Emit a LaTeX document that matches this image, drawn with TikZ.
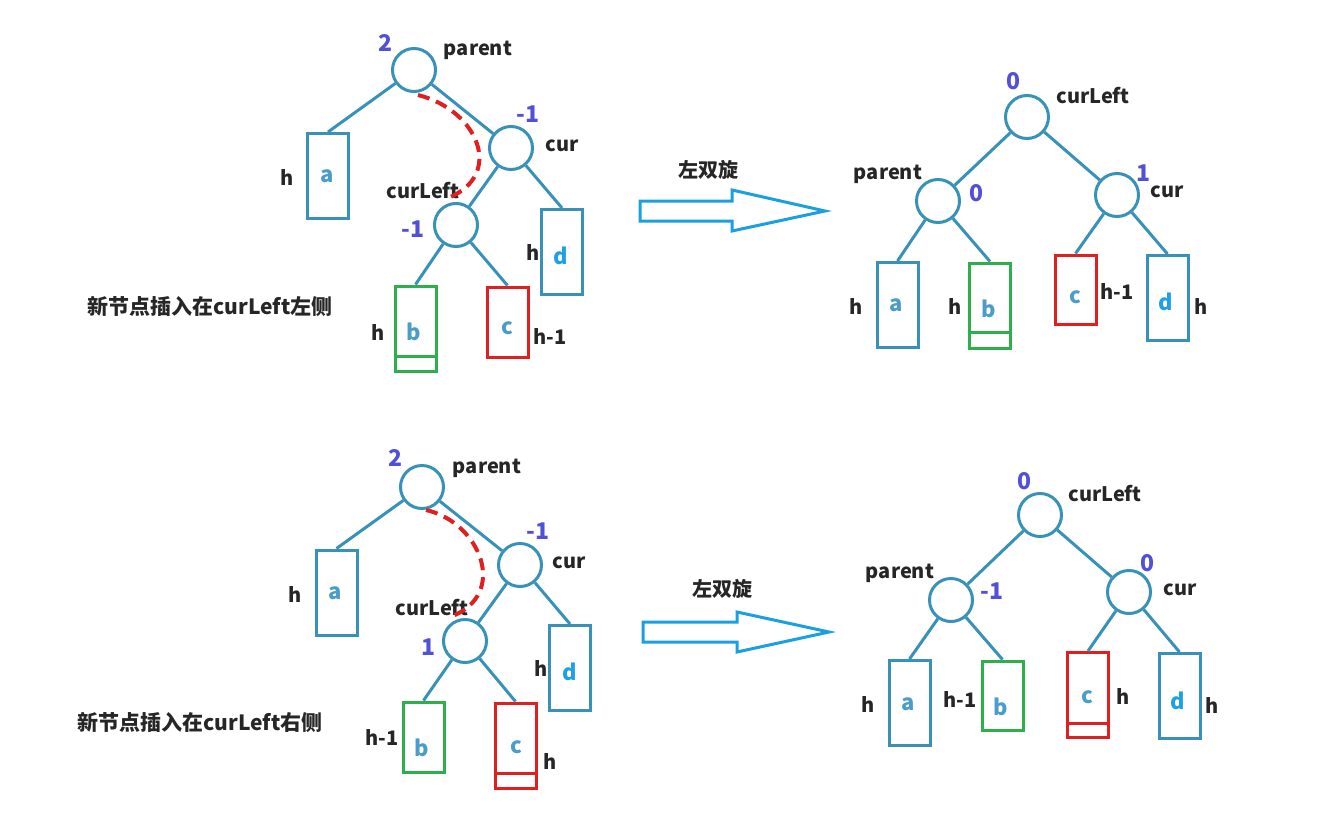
\documentclass[tikz,border=0pt]{standalone}
\usepackage{fontspec}
\setmainfont{Noto Sans CJK SC}
\definecolor{treeblue}{RGB}{56,145,185}
\definecolor{lettblue}{RGB}{74,157,200}
\definecolor{dblue}{RGB}{30,160,230}
\definecolor{balblue}{RGB}{80,80,216}
\definecolor{arrblue}{RGB}{26,160,224}
\definecolor{bgreen}{RGB}{45,176,75}
\definecolor{bred}{RGB}{224,32,32}
\tikzset{
  tn/.style={circle, draw=treeblue, line width=3pt, minimum size=43pt, inner sep=0pt},
  bx/.style={draw=treeblue, line width=3pt, minimum width=41pt, minimum height=85pt, inner sep=0pt},
  gbx/.style={bx, draw=bgreen},
  rbx/.style={bx, draw=bred},
  conn/.style={draw=treeblue, line width=3pt},
  lbl/.style={font=\fontsize{20}{22}\selectfont\bfseries, text=black!85, inner sep=0pt},
  bal/.style={font=\fontsize{23}{25}\selectfont\bfseries, text=balblue, inner sep=0pt},
  lett/.style={font=\fontsize{22}{24}\selectfont\bfseries, text=lettblue, inner sep=0pt},
  dlett/.style={lett, text=dblue},
  bigarrow/.style={draw=arrblue, line width=3pt, line join=miter},
  rot/.style={draw=bred, line width=4pt, dash pattern=on 12pt off 7pt},
  captxt/.style={font=\fontsize{21}{23}\selectfont\bfseries, text=black!85, inner sep=0pt}
}
\begin{document}
\begin{tikzpicture}[x=1pt,y=-1pt]
\useasboundingbox (0,0) rectangle (1326,833);
% ================= top left =================
\node[tn] (p1) at (414,70) {};
\node[tn] (c1) at (511,148) {};
\node[tn] (l1) at (456,225) {};
\node[bx] (a1) at (328,176) {};
\node[lett] (a1t) at (327,176) {a};
\node[bx] (d1) at (562,252) {};
\node[dlett] (d1t) at (561,256) {d};
\node[gbx] (b1) at (415.5,328.5) {};
\node[lett] (b1t) at (414,332) {b};
\node[rbx, minimum height=70pt] (cc1) at (507.5,322) {};
\node[lett] (cc1t) at (507,328) {c};
\draw[draw=bgreen, line width=3pt] ([yshift=16pt]b1.south west) -- ([yshift=16pt]b1.south east);
\draw[conn] (p1) -- (a1.north);
\draw[conn] (p1) -- (c1);
\draw[conn] (c1) -- (l1);
\draw[conn] (c1) -- (d1.north);
\draw[conn] (l1) -- (b1.north);
\draw[conn] (l1) -- (cc1.north);
\node[bal] (p1b) at (385,43) {2};
\node[lbl] (p1n) at (478,50) {parent};
\node[bal] (c1b) at (528,114) {-1};
\node[lbl] (c1n) at (562,146) {cur};
\node[lbl] (l1n) at (423,191) {curLeft};
\node[bal] (l1b) at (413,229) {-1};
\node[lbl] (h1a) at (287,178) {h};
\node[lbl] (h1d) at (533,253) {h};
\node[lbl] (h1b) at (378,333) {h};
\node[lbl] (h1c) at (550,337) {h-1};
\coordinate (r1s) at (418,95);
\coordinate (r1e) at (448,198);
\draw[rot] (r1s) .. controls (478,110) and (505,175) .. (r1e);
\node[captxt] (t1) at (210,306) {新节点插入在curLeft左侧};
% arrow top
\draw[bigarrow] (640,201) -- (732,201) -- (732,190) -- (825,211) -- (732,231) -- (732,221) -- (640,221) -- cycle;
\node[lbl] (ar1t) at (708,170) {左双旋};
% ================= top right =================
\node[tn] (L2) at (1027,117) {};
\node[tn] (P2) at (938,201) {};
\node[tn] (C2) at (1117,195) {};
\node[bx] (a2) at (897.5,305) {};
\node[lett] (a2t) at (896,305) {a};
\node[gbx] (b2) at (990,305.5) {};
\node[lett] (b2t) at (989,309) {b};
\draw[draw=bgreen, line width=3pt] ([yshift=17pt]b2.south west) -- ([yshift=17pt]b2.south east);
\node[rbx, minimum height=69pt] (cc2) at (1075.5,289.5) {};
\node[lett] (cc2t) at (1075,297) {c};
\node[bx] (d2) at (1167.5,298) {};
\node[dlett] (d2t) at (1166,302) {d};
\draw[conn] (L2) -- (P2);
\draw[conn] (L2) -- (C2);
\draw[conn] (P2) -- (a2.north);
\draw[conn] (P2) -- (b2.north);
\draw[conn] (C2) -- (cc2.north);
\draw[conn] (C2) -- (d2.north);
\node[bal] (L2b) at (1013,81) {0};
\node[lbl] (L2n) at (1093,96) {curLeft};
\node[lbl] (P2n) at (888,174) {parent};
\node[bal] (P2b) at (976,193) {0};
\node[bal] (C2b) at (1143,173) {1};
\node[lbl] (C2n) at (1167,192) {cur};
\node[lbl] (h2a) at (856,307) {h};
\node[lbl] (h2b) at (955,307) {h};
\node[lbl] (h2c) at (1117,292) {h-1};
\node[lbl] (h2d) at (1201,307) {h};
% ================= bottom left =================
\node[tn] (p3) at (422,487) {};
\node[tn] (c3) at (520,565) {};
\node[tn] (l3) at (465,641) {};
\node[bx] (a3) at (336.5,592.5) {};
\node[lett] (a3t) at (335,593) {a};
\node[bx] (d3) at (570,668) {};
\node[dlett] (d3t) at (570,672) {d};
\node[gbx, minimum height=70pt] (b3) at (423.5,737) {};
\node[lett] (b3t) at (422,748) {b};
\node[rbx] (cc3) at (515.5,745.5) {};
\node[lett] (cc3t) at (516,747) {c};
\draw[draw=bred, line width=3pt] ([yshift=16pt]cc3.south west) -- ([yshift=16pt]cc3.south east);
\draw[conn] (p3) -- (a3.north);
\draw[conn] (p3) -- (c3);
\draw[conn] (c3) -- (l3);
\draw[conn] (c3) -- (d3.north);
\draw[conn] (l3) -- (b3.north);
\draw[conn] (l3) -- (cc3.north);
\node[bal] (p3b) at (395,458) {2};
\node[lbl] (p3n) at (487,468) {parent};
\node[bal] (c3b) at (538,531) {-1};
\node[lbl] (c3n) at (569,563) {cur};
\node[lbl] (l3n) at (432,608) {curLeft};
\node[bal] (l3b) at (428,647) {1};
\node[lbl] (h3a) at (295,595) {h};
\node[lbl] (h3d) at (541,669) {h};
\node[lbl] (h3b) at (382,738) {h-1};
\node[lbl] (h3c) at (550,762) {h};
\coordinate (r3s) at (426,510);
\coordinate (r3e) at (450,617);
\draw[rot] (r3s) .. controls (480,522) and (510,595) .. (r3e);
\node[captxt] (t3) at (200,722) {新节点插入在curLeft右侧};
% arrow bottom
\draw[bigarrow] (643,622) -- (737,622) -- (737,612) -- (829,632) -- (737,652) -- (737,642) -- (643,642) -- cycle;
\node[lbl] (ar3t) at (722,589) {左双旋};
% ================= bottom right =================
\node[tn] (L4) at (1040,515) {};
\node[tn] (P4) at (951,600) {};
\node[tn] (C4) at (1129,592) {};
\node[bx] (a4) at (909.5,703) {};
\node[lett] (a4t) at (908,704) {a};
\node[gbx, minimum height=69pt] (b4) at (1002.5,695.5) {};
\node[lett] (b4t) at (1001,707) {b};
\node[rbx] (cc4) at (1088,695) {};
\node[lett] (cc4t) at (1087,697) {c};
\draw[draw=bred, line width=3pt] ([yshift=16pt]cc4.south west) -- ([yshift=16pt]cc4.south east);
\node[bx] (d4) at (1179.5,696) {};
\node[dlett] (d4t) at (1178,701) {d};
\draw[conn] (L4) -- (P4);
\draw[conn] (L4) -- (C4);
\draw[conn] (P4) -- (a4.north);
\draw[conn] (P4) -- (b4.north);
\draw[conn] (C4) -- (cc4.north);
\draw[conn] (C4) -- (d4.north);
\node[bal] (L4b) at (1024,481) {0};
\node[lbl] (L4n) at (1105,494) {curLeft};
\node[lbl] (P4n) at (900,573) {parent};
\node[bal] (P4b) at (992,591) {-1};
\node[bal] (C4b) at (1147,563) {0};
\node[lbl] (C4n) at (1180,590) {cur};
\node[lbl] (h4a) at (868,705) {h};
\node[lbl] (h4b) at (960,700) {h-1};
\node[lbl] (h4c) at (1123,697) {h};
\node[lbl] (h4d) at (1212,706) {h};
\end{tikzpicture}
\end{document}
